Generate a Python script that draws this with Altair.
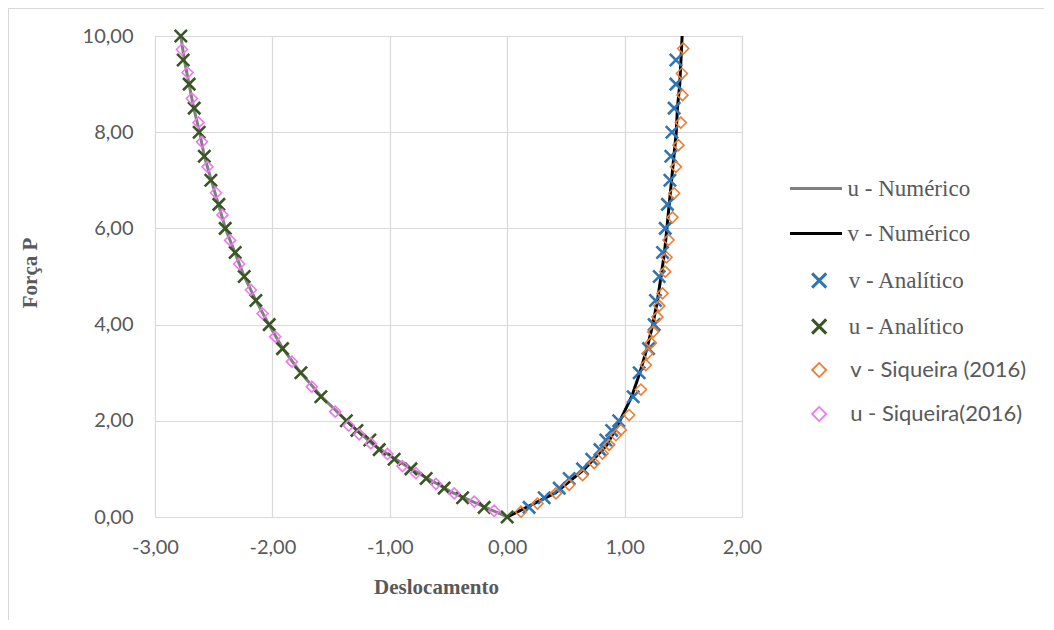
import altair as alt
import pandas as pd

# ---------------- data ----------------
# u - Numérico (gray line)
P_u_num = [0, 0.5, 1.0, 1.5, 2.0, 2.5, 3.0, 3.5, 4.0, 4.5, 5.0, 5.5, 6.0, 6.5, 7.0, 7.5, 8.0, 8.5, 9.0, 9.5, 10.0]
u_num = [0, -0.46, -0.82, -1.14, -1.37, -1.58, -1.76, -1.91, -2.03, -2.14, -2.24, -2.32, -2.40, -2.46, -2.52, -2.58, -2.62, -2.67, -2.71, -2.75, -2.78]

# v - Numérico (black line)
P_v_num = [0, 0.5, 1.0, 1.5, 2.0, 2.5, 3.0, 3.5, 4.0, 4.5, 5.0, 5.5, 6.0, 6.5, 7.0, 7.5, 8.0, 8.5, 9.0, 9.5, 10.0]
v_num = [0, 0.41, 0.66, 0.85, 0.96, 1.06, 1.13, 1.19, 1.24, 1.28, 1.31, 1.34, 1.36, 1.38, 1.40, 1.42, 1.44, 1.45, 1.47, 1.48, 1.49]

# v - Analítico (blue x)
P_v_an = [0.2, 0.4, 0.6, 0.8, 1.0, 1.2, 1.4, 1.6, 1.8, 2.0, 2.5, 3.0, 3.5, 4.0, 4.5, 5.0, 5.5, 6.0, 6.5, 7.0, 7.5, 8.0, 8.5, 9.0, 9.5]
v_an = [0.187, 0.315, 0.443, 0.528, 0.642, 0.72, 0.79, 0.84, 0.89, 0.95, 1.073, 1.124, 1.204, 1.252, 1.263, 1.295, 1.323, 1.346, 1.365, 1.386, 1.394, 1.403, 1.422, 1.437, 1.437]

# u - Analítico (dark green x)
P_u_an = [0, 0.2, 0.4, 0.6, 0.8, 1.0, 1.2, 1.4, 1.6, 1.8, 2.0, 2.5, 3.0, 3.5, 4.0, 4.5, 5.0, 5.5, 6.0, 6.5, 7.0, 7.5, 8.0, 8.5, 9.0, 9.5, 10.0]
u_an = [0, -0.196, -0.38, -0.537, -0.69, -0.82, -0.963, -1.09, -1.17, -1.28, -1.37, -1.587, -1.757, -1.914, -2.027, -2.141, -2.24, -2.317, -2.402, -2.456, -2.524, -2.58, -2.624, -2.666, -2.709, -2.76, -2.78]

# v - Siqueira (2016) (orange diamonds)
P_v_sq = [0.11, 0.28, 0.49, 0.67, 0.87, 1.12, 1.32, 1.5, 1.7, 1.81, 2.12, 2.65, 3.16, 3.4, 3.62, 3.85, 4.16, 4.39, 4.65, 5.1, 5.4, 5.76, 6.23, 6.73, 7.28, 7.73, 8.2, 8.77, 9.22, 9.74]
v_sq = [0.117, 0.258, 0.415, 0.528, 0.642, 0.741, 0.812, 0.869, 0.926, 0.968, 1.039, 1.139, 1.181, 1.195, 1.224, 1.244, 1.28, 1.295, 1.323, 1.346, 1.357, 1.374, 1.408, 1.422, 1.437, 1.459, 1.479, 1.493, 1.488, 1.499]

# u - Siqueira(2016) (pink diamonds)
P_u_sq = [0.13, 0.32, 0.49, 0.69, 0.91, 1.06, 1.31, 1.53, 1.72, 1.9, 2.19, 2.71, 3.23, 3.75, 4.23, 4.72, 5.26, 5.75, 6.28, 6.74, 7.28, 7.8, 8.2, 8.7, 9.24, 9.72]
u_sq = [-0.111, -0.281, -0.451, -0.607, -0.778, -0.892, -1.02, -1.161, -1.26, -1.35, -1.465, -1.664, -1.834, -1.976, -2.084, -2.183, -2.283, -2.36, -2.425, -2.481, -2.553, -2.60, -2.63, -2.686, -2.723, -2.771]

x_ticks = [-3, -2, -1, 0, 1, 2]
y_ticks = [0, 2, 4, 6, 8, 10]

TITLE = "Gráfico dos deslocamentos para força de tração"
X_TITLE = "Deslocamento"
Y_TITLE = "Força P"

line_names = ["u - Numérico", "v - Numérico"]
an_names = ["v - Analítico", "u - Analítico"]
sq_names = ["v - Siqueira (2016)", "u - Siqueira(2016)"]

# ---------------- tables ----------------
lines_df = pd.concat([
    pd.DataFrame({"P": P_u_num, "d": u_num, "serie": line_names[0]}),
    pd.DataFrame({"P": P_v_num, "d": v_num, "serie": line_names[1]}),
])
an_df = pd.concat([
    pd.DataFrame({"P": P_v_an, "d": v_an, "serie": an_names[0]}),
    pd.DataFrame({"P": P_u_an, "d": u_an, "serie": an_names[1]}),
])
sq_df = pd.concat([
    pd.DataFrame({"P": P_v_sq, "d": v_sq, "serie": sq_names[0]}),
    pd.DataFrame({"P": P_u_sq, "d": u_sq, "serie": sq_names[1]}),
])

W, H = 587, 481
PAD_L, PAD_T = 147, 28
TOTAL_W, TOTAL_H = 1036, 612

GRID = "#d9d9d9"
TXT = "#595959"
XPATH = "M-1,-1L1,1M1,-1L-1,1"
fmt = "replace(replace(format(datum.value, '.2f'), '.', ','), '\u2212', '-')"

x_enc = alt.X("d:Q", scale=alt.Scale(domain=[-3, 2], nice=False),
              axis=alt.Axis(values=x_ticks, labelExpr=fmt, title=X_TITLE, labelFlush=False,
                            titleFont="Liberation Serif", titleFontSize=21, titleFontWeight="bold",
                            titleColor=TXT, titleX=281, titleY=70, titleBaseline="middle",
                            labelFont="Lato", labelFontSize=20, labelColor=TXT, labelPadding=20,
                            grid=True, gridColor=GRID, gridWidth=1.2, domain=False, ticks=False))
y_enc = alt.Y("P:Q", scale=alt.Scale(domain=[0, 10], nice=False),
              axis=alt.Axis(values=y_ticks, labelExpr=fmt, title=Y_TITLE, labelFlush=False,
                            titleFont="Liberation Serif", titleFontSize=21, titleFontWeight="bold",
                            titleColor=TXT, titleX=-125, titleY=H / 2 - 4, titleBaseline="middle",
                            titleAngle=270,
                            labelFont="Lato", labelFontSize=20, labelColor=TXT, labelPadding=22,
                            grid=True, gridColor=GRID, gridWidth=1.2, domain=False, ticks=False))

lines = alt.Chart(lines_df).mark_line(strokeWidth=3).encode(
    x=x_enc, y=y_enc,
    order="P:Q",
    color=alt.Color("serie:N", scale=alt.Scale(domain=line_names, range=["#808080", "#000000"]),
                    legend=alt.Legend(title=None, orient="none", legendX=633.5, legendY=125,
                                      symbolType="stroke", symbolSize=2704, symbolStrokeWidth=3,
                                      labelFont="Liberation Serif", labelFontSize=23, labelColor=TXT,
                                      labelOffset=4, rowPadding=5, padding=0, labelLimit=400)),
)

analytic = alt.Chart(an_df).mark_point(shape=XPATH, filled=False, strokeWidth=2.6, size=150, opacity=1).encode(
    x="d:Q", y="P:Q",
    color=alt.Color("serie:N", scale=alt.Scale(domain=an_names, range=["#2e75b6", "#375623"]),
                    legend=alt.Legend(title=None, orient="none", legendX=652.7, legendY=233,
                                      symbolType=XPATH, symbolSize=200, symbolStrokeWidth=3,
                                      labelFont="Liberation Serif", labelFontSize=23, labelColor=TXT,
                                      labelOffset=18, rowPadding=19, padding=0, labelLimit=400)),
)

siq = alt.Chart(sq_df).mark_point(shape="diamond", filled=False, strokeWidth=1.6, size=121, opacity=1).encode(
    x="d:Q", y="P:Q",
    color=alt.Color("serie:N", scale=alt.Scale(domain=sq_names, range=["#ed7d31", "#ee78ee"]),
                    legend=alt.Legend(title=None, orient="none", legendX=653.2, legendY=323,
                                      symbolType="diamond", symbolSize=200, symbolStrokeWidth=1.8,
                                      labelFont="Lato", labelFontSize=22, labelColor=TXT,
                                      labelOffset=20, rowPadding=22, padding=0, labelLimit=400)),
)

dummy = pd.DataFrame({"k": [0]})
frame_v = alt.Chart(dummy).mark_rule(color=GRID, strokeWidth=1).encode(
    x=alt.value(-PAD_L + 0.5), y=alt.value(-PAD_T), y2=alt.value(TOTAL_H - PAD_T))
frame_h = alt.Chart(dummy).mark_rule(color=GRID, strokeWidth=1).encode(
    x=alt.value(-PAD_L), x2=alt.value(TOTAL_W - PAD_L), y=alt.value(-PAD_T + 0.5))

chart = alt.layer(frame_v, frame_h, lines, analytic, siq).resolve_scale(
    color="independent"
).properties(
    width=W, height=H,
    title=alt.TitleParams(text=TITLE, font="Liberation Serif", fontSize=18, fontWeight="bold",
                          color="#333333", anchor="middle", offset=8, dx=50),
    autosize=alt.AutoSizeParams(type="none"),
    padding={"left": PAD_L, "top": PAD_T, "right": TOTAL_W - PAD_L - W, "bottom": TOTAL_H - PAD_T - H},
).configure_view(stroke=None).configure(background="white")

chart.save("out.html", embed_options={"renderer": "svg", "actions": False})
